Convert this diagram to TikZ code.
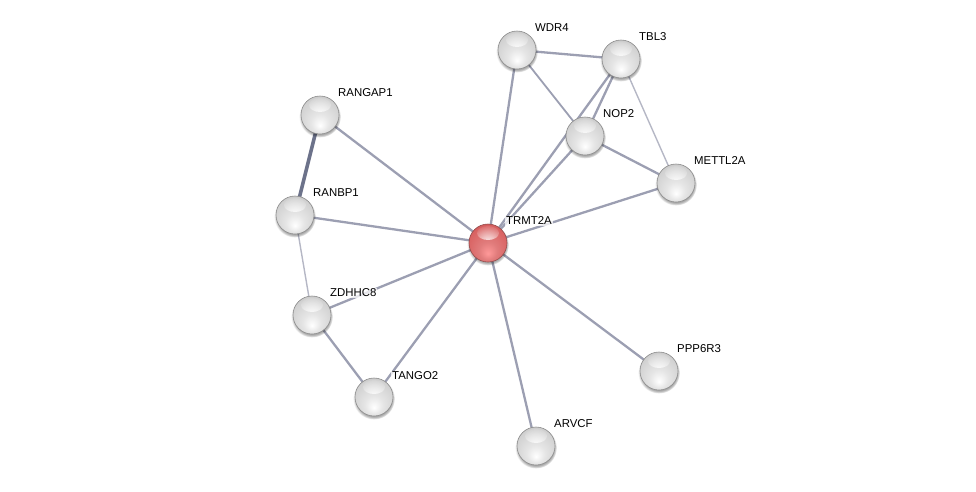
\documentclass[tikz,border=0pt]{standalone}
\usepackage{fontspec}
\setmainfont{Liberation Sans}
\usetikzlibrary{backgrounds,shadows,fadings}
\pgfdeclareradialshading{graysphere}{\pgfpoint{0bp}{-14bp}}{%
  color(0bp)=(white);
  color(12bp)=(white!90!black);
  color(28bp)=(white!82!black);
  color(40bp)=(white!70!black);
  color(50bp)=(white!55!black)}
\pgfdeclareradialshading{redsphere}{\pgfpoint{0bp}{-14bp}}{%
  color(0bp)=(red!40!white);
  color(12bp)=(red!45!white!88!black);
  color(28bp)=(red!55!white!85!black);
  color(40bp)=(red!60!white!72!black);
  color(50bp)=(red!70!black!80!white)}
\tikzfading[name=hlfade, inner color=transparent!10, outer color=transparent!100]
\tikzset{
  protein/.style={circle, minimum size=38pt, inner sep=0pt, shading=graysphere,
    draw=black!45, line width=0.6pt,
    circular drop shadow={shadow xshift=0pt, shadow yshift=-1.5pt, opacity=0.35, fill=black},
    path picture={\fill[white, path fading=hlfade]
      ([yshift=-9pt]path picture bounding box.north) ellipse (11pt and 7pt);}},
  query/.style={protein, shading=redsphere, draw=red!40!black!70},
  lbl/.style={anchor=west, font=\fontsize{11.4}{13}\selectfont, text=black, inner sep=1pt,
    fill=white, fill opacity=0.75, text opacity=1},
  edge/.style={draw=edgecol, line width=2.3pt},
  thinedge/.style={draw=edgecol!75, line width=1.4pt},
  thickedge/.style={draw=darkedge, line width=3.6pt},
}
\definecolor{edgecol}{HTML}{9C9FB2}
\definecolor{darkedge}{HTML}{6C728A}
\begin{document}
\begin{tikzpicture}[x=1pt,y=-1pt]
\useasboundingbox (0,0) rectangle (976,491);
\node[query]   (TRMT2A)  at (488,243) {};
\node[protein] (WDR4)    at (517,50) {};
\node[protein] (TBL3)    at (621,59) {};
\node[protein] (NOP2)    at (585,136) {};
\node[protein] (METTL2A) at (676,183) {};
\node[protein] (RANGAP1) at (320,115) {};
\node[protein] (RANBP1)  at (295,215) {};
\node[protein] (ZDHHC8)  at (312,315) {};
\node[protein] (TANGO2)  at (374,397) {};
\node[protein] (ARVCF)   at (536,446) {};
\node[protein] (PPP6R3)  at (659,371) {};

\node[lbl] (lTRMT2A)  at (505,221) {TRMT2A};
\node[lbl] (lWDR4)    at (534,28) {WDR4};
\node[lbl] (lTBL3)    at (638,37) {TBL3};
\node[lbl] (lNOP2)    at (602,114) {NOP2};
\node[lbl] (lMETTL2A) at (693,161) {METTL2A};
\node[lbl] (lRANGAP1) at (337,93) {RANGAP1};
\node[lbl] (lRANBP1)  at (312,193) {RANBP1};
\node[lbl] (lZDHHC8)  at (329,293) {ZDHHC8};
\node[lbl] (lTANGO2)  at (391,376) {TANGO2};
\node[lbl] (lARVCF)   at (553,424) {ARVCF};
\node[lbl] (lPPP6R3)  at (676,349) {PPP6R3};

\begin{scope}[on background layer]
\draw[edge] (TRMT2A.center) -- (WDR4.center);
\draw[edge] (TRMT2A.center) -- (TBL3.center);
\draw[edge] (TRMT2A.center) -- (NOP2.center);
\draw[edge] (TRMT2A.center) -- (METTL2A.center);
\draw[edge] (TRMT2A.center) -- (RANGAP1.center);
\draw[edge] (TRMT2A.center) -- (RANBP1.center);
\draw[edge] (TRMT2A.center) -- (ZDHHC8.center);
\draw[edge] (TRMT2A.center) -- (TANGO2.center);
\draw[edge] (TRMT2A.center) -- (ARVCF.center);
\draw[edge] (TRMT2A.center) -- (PPP6R3.center);
\draw[edge] (WDR4.center) -- (TBL3.center);
\draw[edge, line width=1.8pt] (WDR4.center) -- (NOP2.center);
\draw[edge] (NOP2.center) -- (TBL3.center);
\draw[edge] (NOP2.center) -- (METTL2A.center);
\draw[thinedge] (TBL3.center) -- (METTL2A.center);
\draw[thickedge] (RANGAP1.center) -- (RANBP1.center);
\draw[thinedge] (RANBP1.center) -- (ZDHHC8.center);
\draw[edge] (ZDHHC8.center) -- (TANGO2.center);
\end{scope}
\end{tikzpicture}
\end{document}
